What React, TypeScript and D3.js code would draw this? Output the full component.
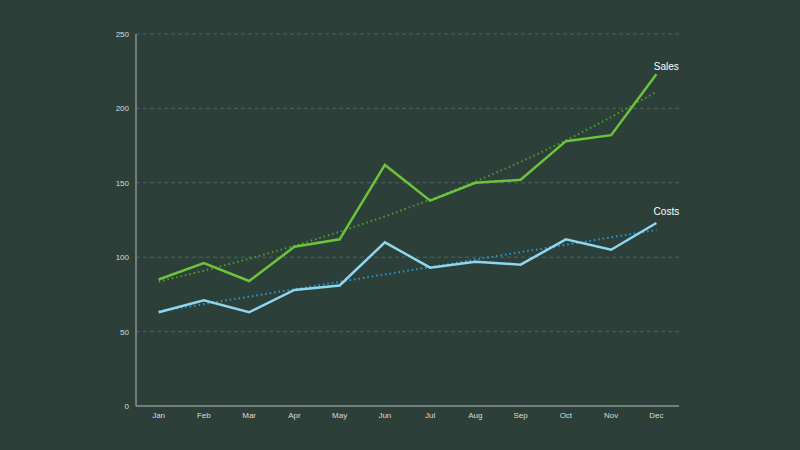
import React from "react";
import * as d3 from "d3";

const months = ["Jan", "Feb", "Mar", "Apr", "May", "Jun", "Jul", "Aug", "Sep", "Oct", "Nov", "Dec"];
const sales = [85, 96, 84, 107, 112, 162, 138, 150, 152, 178, 182, 223];
const costs = [63, 71, 63, 78, 81, 110, 93, 97, 95, 112, 105, 123];
const yTicks = [0, 50, 100, 150, 200, 250];

function linearFit(vals: number[]) {
  const n = vals.length;
  const xm = (n - 1) / 2;
  const ym = d3.mean(vals) as number;
  let sxy = 0, sxx = 0;
  vals.forEach((v, i) => { sxy += (i - xm) * (v - ym); sxx += (i - xm) * (i - xm); });
  const b = sxy / sxx;
  return vals.map((_, i) => ym + b * (i - xm));
}
function expFit(vals: number[]) {
  const l = linearFit(vals.map((v) => Math.log(v)));
  return l.map((v) => Math.exp(v));
}

export default function App() {
  const W = 800, H = 450;
  const left = 136, right = 679, top = 34, bottom = 406;
  const x = d3.scaleBand<string>().domain(months).range([left, right]);
  const y = d3.scaleLinear().domain([0, 250]).range([bottom, top]);
  const cx = (m: string) => (x(m) as number) + x.bandwidth() / 2;
  const line = d3.line<number>().x((_, i) => cx(months[i])).y((d) => y(d));
  const salesTrend = expFit(sales);
  const costsTrend = linearFit(costs);
  const font = "Liberation Sans, Arial, sans-serif";
  return (
    <svg width={W} height={H} style={{ position: "absolute", left: 0, top: 0 }}>
      <rect width={W} height={H} fill="#2c3f38" />
      {yTicks.filter((t) => t > 0).map((t) => (
        <line key={t} x1={left} x2={right} y1={y(t)} y2={y(t)} stroke="#5c6e66" strokeWidth={0.8} strokeDasharray="4,3" />
      ))}
      {yTicks.map((t) => (
        <text key={t} x={left - 7} y={y(t) + 3} fontSize={8} fill="#d8dcda" textAnchor="end" fontFamily={font}>{t}</text>
      ))}
      {months.map((m) => (
        <text key={m} x={cx(m)} y={bottom + 12} fontSize={8} fill="#d8dcda" textAnchor="middle" fontFamily={font}>{m}</text>
      ))}
      <line x1={left} x2={left} y1={top} y2={bottom} stroke="#8a948f" strokeWidth={1.5} />
      <line x1={left} x2={right} y1={bottom} y2={bottom} stroke="#8a948f" strokeWidth={1.5} />
      <path d={line(salesTrend) || ""} fill="none" stroke="#4f9e2a" strokeWidth={2} strokeDasharray="1.5,3" />
      <path d={line(costsTrend) || ""} fill="none" stroke="#2a9ad6" strokeWidth={2} strokeDasharray="1.5,3" />
      <path d={line(sales) || ""} fill="none" stroke="#6cc43c" strokeWidth={2.5} strokeLinejoin="miter" />
      <path d={line(costs) || ""} fill="none" stroke="#8fd6ef" strokeWidth={2.5} strokeLinejoin="miter" />
      <text x={cx("Dec") + 10} y={y(sales[11]) - 4} fontSize={10} fill="#ffffff" textAnchor="middle" fontFamily={font}>Sales</text>
      <text x={cx("Dec") + 10} y={y(costs[11]) - 8} fontSize={10} fill="#ffffff" textAnchor="middle" fontFamily={font}>Costs</text>
    </svg>
  );
}
